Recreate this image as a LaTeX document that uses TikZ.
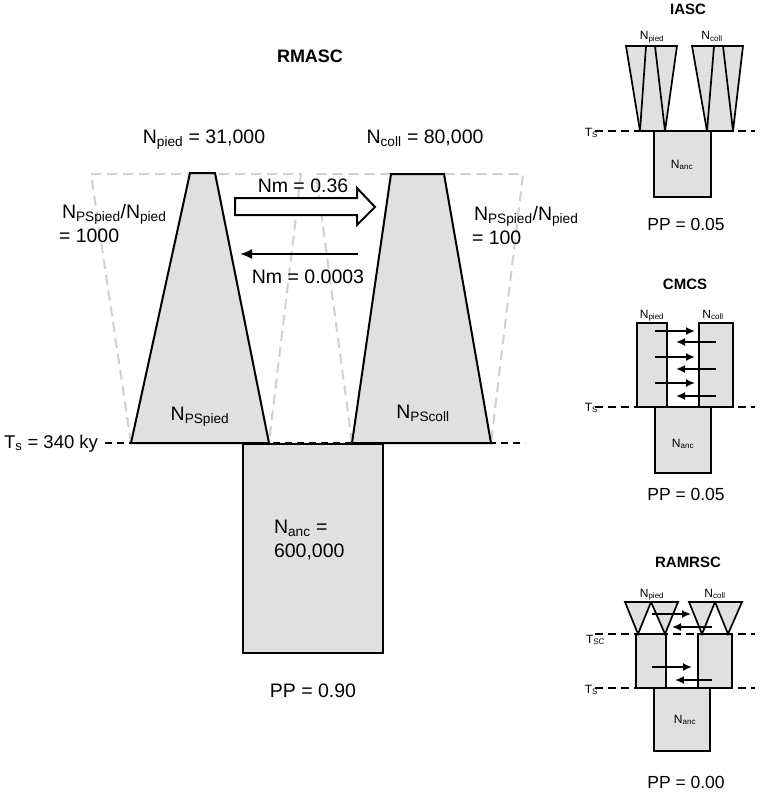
\documentclass[tikz,border=0pt]{standalone}
\usepackage{fontspec}
\setmainfont{Liberation Sans}
\usetikzlibrary{arrows.meta}
\definecolor{popgray}{RGB}{224,224,224}
\definecolor{ghostgray}{RGB}{208,208,208}

\begin{document}
\begin{tikzpicture}[x=1pt, y=-1pt]
\tikzset{ >={Latex[length=12pt,width=10pt]}, inner sep=0pt, outer sep=0pt,
  pop/.style={fill=popgray, draw=black, line width=2pt},
  popS/.style={fill=popgray, draw=black, line width=1.7pt},
  ghost/.style={draw=ghostgray, line width=2pt, dash pattern=on 10pt off 6pt},
  splitline/.style={line width=2pt, dash pattern=on 7pt off 5pt},
  splitS/.style={line width=1.7pt, dash pattern=on 8pt off 5pt},
  mig/.style={-{Latex[length=9pt,width=8pt]}, line width=1.7pt},
  big/.style={font=\fontsize{19.5}{22}\selectfont},
  small/.style={font=\fontsize{12}{14}\selectfont},
  pp/.style={font=\fontsize{17.5}{20}\selectfont},
  title/.style={font=\fontsize{15}{18}\selectfont\bfseries},
}

\useasboundingbox (0,0) rectangle (760,800);

%%% RMASC
\draw [ghost] (131,443) -- (91,174) -- (301,174) -- (269,443);
\draw [ghost] (352,443) -- (316,174) -- (523,174) -- (491,443);

\draw [splitline] (105,443) -- (525,443);

\draw [pop] (131,443) -- (190,173) -- (215,173) -- (269,443) -- cycle;
\draw [pop] (352,443) -- (391,174) -- (444,174) -- (491,443) -- cycle;
\draw [pop] (243,444) rectangle (383,653);

\draw [line width=2pt, fill=white] (235,198) -- (357,198) -- (357,188) -- (375,207)
      -- (357,225) -- (357,215) -- (235,215) -- cycle;

\coordinate (back0) at (358,254);
\coordinate (back1) at (240,254);
\draw [->, line width=2pt] (back0) -- (back1);

\node [title, font=\fontsize{18}{20}\selectfont\bfseries, anchor=base] (rmasc) at (310,63) {RMASC};
\node [big, anchor=base] (pied) at (204,143) {N\textsubscript{pied} = 31,000};
\node [big, anchor=base] (coll) at (425,143) {N\textsubscript{coll} = 80,000};
\node [big, anchor=base] (fwd) at (303,192) {Nm = 0.36};
\node [big, anchor=base] (bwd) at (308,283) {Nm = 0.0003};
\node [big, anchor=base west] (ratioL) at (62,218) {N\textsubscript{PSpied}/N\textsubscript{pied}};
\node [big, anchor=base west] (ratioLv) at (59,242) {= 1000};
\node [big, anchor=base west] (ratioR) at (474,220) {N\textsubscript{PSpied}/N\textsubscript{pied}};
\node [big, anchor=base west] (ratioRv) at (472,244) {= 100};
\node [big, anchor=base] (psPied) at (200,420) {N\textsubscript{PSpied}};
\node [big, anchor=base] (psColl) at (423,418) {N\textsubscript{PScoll}};
\node [big, font=\fontsize{18.5}{22}\selectfont, anchor=base east] (tsMain) at (98,448) {T\textsubscript{s} = 340 ky};
\node [big, anchor=base west] (anc) at (274,533) {N\textsubscript{anc} =};
\node [big, anchor=base west] (ancv) at (274,557) {600,000};
\node [big, anchor=base] (ppMain) at (313,697) {PP = 0.90};

%%% IASC
\draw [splitS] (595,131) -- (755,131);
\draw [popS] (640,131) -- (626,46) -- (677,46) -- (665,131) -- cycle;
\draw [line width=1.7pt] (646,46) -- (640,131);
\draw [line width=1.7pt] (655,46) -- (665,131);
\draw [popS] (707,131) -- (692,46) -- (743,46) -- (733,131) -- cycle;
\draw [line width=1.7pt] (714,46) -- (707,131);
\draw [line width=1.7pt] (723,46) -- (733,131);
\draw [popS] (654,131) rectangle (711,197);

\node [title, anchor=base] (iasc) at (688,15) {IASC};
\node [small, anchor=base] (iPied) at (652,40) {N\textsubscript{pied}};
\node [small, anchor=base] (iColl) at (712,40) {N\textsubscript{coll}};
\node [small, anchor=base east] (iTs) at (598,136) {T\textsubscript{S}};
\node [small, anchor=base] (iAnc) at (682,168) {N\textsubscript{anc}};
\node [pp, anchor=base] (iPP) at (686,230) {PP = 0.05};

%%% CMCS
\draw [splitS] (595,407) -- (755,407);
\draw [popS] (637,323) rectangle (667,407);
\draw [popS] (699,323) rectangle (733,407);
\draw [popS] (655,407) rectangle (711,473);

\draw [mig] (655,331) -- (695,331);
\draw [mig] (716,342) -- (676,342);
\draw [mig] (655,357) -- (695,357);
\draw [mig] (716,369) -- (676,369);
\draw [mig] (655,383) -- (695,383);
\draw [mig] (716,396) -- (676,396);

\node [title, anchor=base] (cmcs) at (685,289) {CMCS};
\node [small, anchor=base] (cPied) at (652,318) {N\textsubscript{pied}};
\node [small, anchor=base] (cColl) at (713,318) {N\textsubscript{coll}};
\node [small, anchor=base east] (cTs) at (598,411) {T\textsubscript{S}};
\node [small, anchor=base] (cAnc) at (683,447) {N\textsubscript{anc}};
\node [pp, anchor=base] (cPP) at (686,500) {PP = 0.05};

%%% RAMRSC
\draw [splitS] (595,634) -- (755,634);
\draw [splitS] (595,688) -- (755,688);
\draw [popS] (636,634) rectangle (666,688);
\draw [popS] (698,634) rectangle (732,688);
\draw [popS] (654,688) rectangle (710,751);

\draw [popS] (625,602) -- (651,602) -- (638,634) -- cycle;
\draw [popS] (651,602) -- (678,602) -- (665,634) -- cycle;
\draw [popS] (689,602) -- (715,602) -- (702,634) -- cycle;
\draw [popS] (715,602) -- (742,602) -- (728,634) -- cycle;

\draw [mig] (652,614) -- (691,614);
\draw [mig] (712,627) -- (672,627);
\draw [mig] (652,667) -- (692,667);
\draw [mig] (712,680) -- (675,680);

\node [title, anchor=base] (ramrsc) at (688,567) {RAMRSC};
\node [small, anchor=base] (rPied) at (652,597) {N\textsubscript{pied}};
\node [small, anchor=base] (rColl) at (715,597) {N\textsubscript{coll}};
\node [small, anchor=base east] (rTsc) at (605,643) {T\textsubscript{SC}};
\node [small, anchor=base east] (rTs) at (598,693) {T\textsubscript{S}};
\node [small, anchor=base] (rAnc) at (685,723) {N\textsubscript{anc}};
\node [pp, anchor=base] (rPP) at (686,788) {PP = 0.00};

\end{tikzpicture}
\end{document}
